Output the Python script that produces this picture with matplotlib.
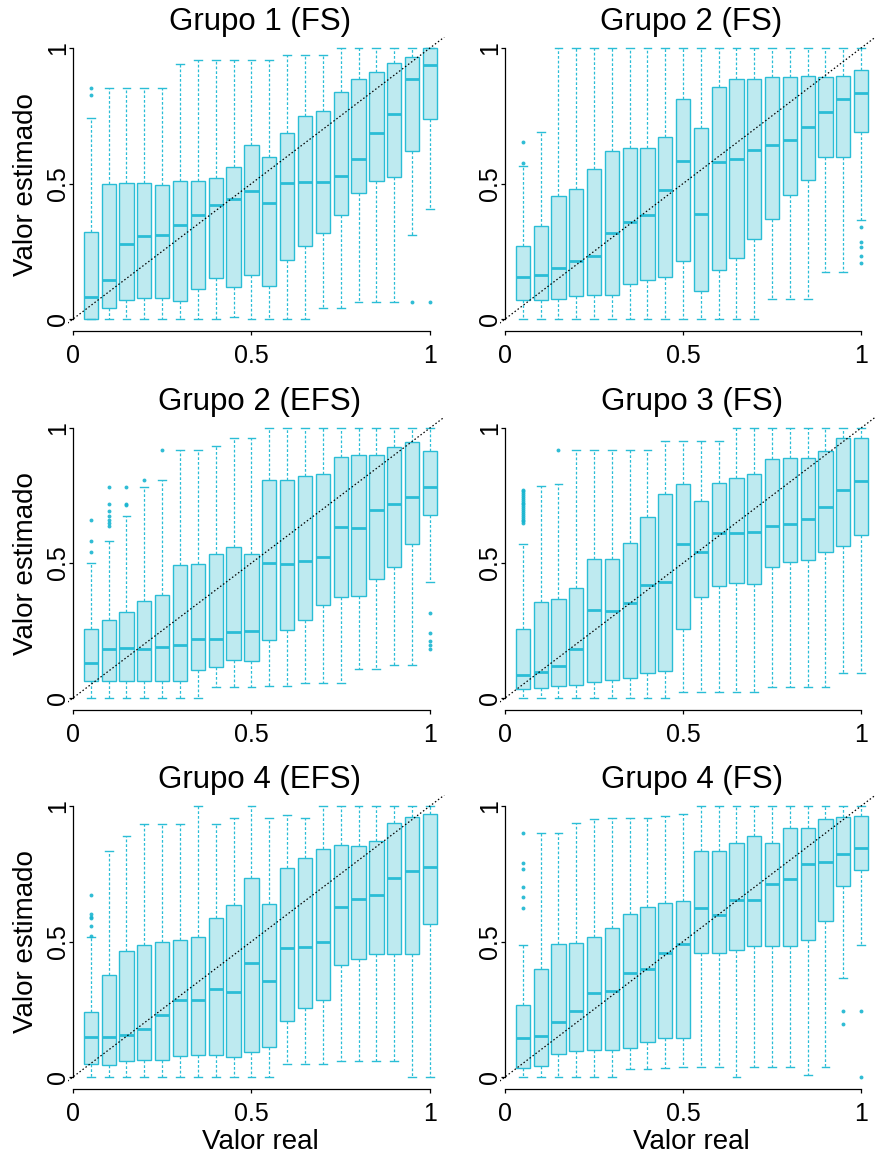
import matplotlib
matplotlib.use("Agg")
import matplotlib.pyplot as plt
import numpy as np

plt.rcParams['font.family'] = ['Liberation Sans', 'DejaVu Sans']

positions = [round(0.05 * k, 2) for k in range(1, 21)]
titles = ["Grupo 1 (FS)", "Grupo 2 (FS)", "Grupo 2 (EFS)", "Grupo 3 (FS)", "Grupo 4 (EFS)", "Grupo 4 (FS)"]
tick_values = [0, 0.5, 1]
tick_labels = ["0", "0.5", "1"]
xlabel_text = "Valor real"
ylabel_text = "Valor estimado"

# ---- Grupo 1 (FS)
g1fs_lo = [0, 0, 0, 0, 0, 0, 0, 0, 0.006, 0, 0, 0, 0, 0.041, 0.041, 0.064, 0.064, 0.064, 0.311, 0.407]
g1fs_q1 = [0, 0.041, 0.071, 0.077, 0.077, 0.065, 0.111, 0.151, 0.119, 0.161, 0.121, 0.219, 0.271, 0.317, 0.384, 0.464, 0.508, 0.526, 0.619, 0.738]
g1fs_med = [0.080, 0.145, 0.278, 0.305, 0.312, 0.348, 0.385, 0.421, 0.444, 0.472, 0.428, 0.503, 0.507, 0.507, 0.529, 0.590, 0.688, 0.756, 0.884, 0.936]
g1fs_q3 = [0.323, 0.499, 0.502, 0.502, 0.493, 0.508, 0.508, 0.519, 0.561, 0.642, 0.598, 0.686, 0.748, 0.768, 0.838, 0.884, 0.913, 0.943, 0.966, 1.0]
g1fs_hi = [0.742, 0.851, 0.851, 0.851, 0.851, 0.941, 0.956, 0.956, 0.956, 0.956, 0.956, 0.973, 0.973, 0.973, 1, 1, 1, 1, 1, 1]
g1fs_out = {1: [0.851, 0.827], 19: [0.064], 20: [0.064]}

# ---- Grupo 2 (FS)
g2fs_lo = [0, 0, 0, 0, 0, 0, 0, 0, 0, 0, 0, 0, 0, 0, 0.075, 0.075, 0.075, 0.173, 0.173, 0.367]
g2fs_q1 = [0.069, 0.069, 0.073, 0.084, 0.087, 0.087, 0.129, 0.145, 0.155, 0.216, 0.103, 0.180, 0.224, 0.296, 0.369, 0.459, 0.514, 0.598, 0.598, 0.690]
g2fs_med = [0.157, 0.164, 0.187, 0.213, 0.231, 0.317, 0.360, 0.385, 0.476, 0.584, 0.389, 0.578, 0.590, 0.622, 0.642, 0.662, 0.708, 0.763, 0.811, 0.834]
g2fs_q3 = [0.268, 0.342, 0.454, 0.481, 0.554, 0.621, 0.631, 0.631, 0.672, 0.813, 0.705, 0.856, 0.886, 0.886, 0.893, 0.893, 0.898, 0.894, 0.898, 0.919]
g2fs_hi = [0.563, 0.692, 1, 1, 1, 1, 1, 1, 1, 1, 1, 1, 1, 1, 1, 1, 1, 1, 1, 1]
g2fs_out = {1: [0.653, 0.576], 20: [0.339, 0.284, 0.266, 0.232, 0.207]}

# ---- Grupo 2 (EFS)
g2efs_lo = [0, 0, 0, 0, 0, 0, 0, 0.039, 0.039, 0.039, 0.043, 0.043, 0.054, 0.054, 0.054, 0.108, 0.108, 0.121, 0.121, 0.429]
g2efs_q1 = [0.064, 0.064, 0.064, 0.064, 0.064, 0.064, 0.102, 0.115, 0.140, 0.138, 0.216, 0.252, 0.289, 0.345, 0.373, 0.378, 0.442, 0.484, 0.571, 0.676]
g2efs_med = [0.131, 0.180, 0.187, 0.183, 0.188, 0.195, 0.220, 0.220, 0.244, 0.250, 0.501, 0.496, 0.506, 0.523, 0.634, 0.628, 0.697, 0.719, 0.745, 0.783]
g2efs_q3 = [0.255, 0.289, 0.318, 0.360, 0.381, 0.491, 0.495, 0.533, 0.558, 0.533, 0.807, 0.807, 0.824, 0.829, 0.893, 0.899, 0.901, 0.930, 0.947, 0.913]
g2efs_hi = [0.501, 0.580, 0.675, 0.780, 0.807, 0.917, 0.917, 0.935, 0.964, 0.964, 1, 1, 1, 1, 1, 1, 1, 1, 1, 1]
g2efs_out = {1: [0.660, 0.580, 0.541],
             2: [0.780, 0.720, 0.692, 0.674, 0.661, 0.649, 0.637],
             3: [0.780, 0.720, 0.713], 4: [0.807], 5: [0.917],
             20: [0.314, 0.240, 0.212, 0.197, 0.182]}

# ---- Grupo 3 (FS)
g3fs_lo = [0, 0, 0, 0, 0, 0, 0, 0, 0, 0.022, 0.022, 0.022, 0.022, 0.022, 0.041, 0.041, 0.041, 0.041, 0.092, 0.092]
g3fs_q1 = [0.033, 0.036, 0.046, 0.049, 0.059, 0.068, 0.074, 0.092, 0.101, 0.256, 0.373, 0.414, 0.426, 0.421, 0.485, 0.502, 0.511, 0.539, 0.563, 0.602]
g3fs_med = [0.087, 0.096, 0.118, 0.181, 0.325, 0.323, 0.353, 0.419, 0.429, 0.569, 0.539, 0.611, 0.611, 0.615, 0.637, 0.644, 0.663, 0.707, 0.771, 0.805]
g3fs_q3 = [0.257, 0.356, 0.368, 0.409, 0.514, 0.516, 0.573, 0.671, 0.757, 0.794, 0.728, 0.797, 0.813, 0.828, 0.885, 0.889, 0.889, 0.913, 0.964, 0.964]
g3fs_hi = [0.570, 0.787, 0.794, 0.920, 0.920, 0.920, 0.920, 0.920, 0.952, 0.952, 0.952, 0.952, 1, 1, 1, 1, 1, 1, 1, 1]
g3fs_out = {1: [0.772, 0.765, 0.758, 0.752, 0.745, 0.738, 0.731, 0.724, 0.717, 0.710,
                0.703, 0.696, 0.689, 0.682, 0.675, 0.668, 0.661, 0.654, 0.649],
            3: [0.920]}

# ---- Grupo 4 (EFS)
g4efs_lo = [0, 0, 0, 0, 0, 0, 0, 0, 0, 0, 0, 0.048, 0.048, 0.048, 0.058, 0.058, 0.058, 0.058, 0, 0]
g4efs_q1 = [0.049, 0.044, 0.058, 0.063, 0.064, 0.077, 0.082, 0.081, 0.074, 0.092, 0.111, 0.206, 0.254, 0.285, 0.412, 0.436, 0.453, 0.453, 0.453, 0.563]
g4efs_med = [0.149, 0.149, 0.156, 0.177, 0.229, 0.283, 0.283, 0.326, 0.313, 0.419, 0.354, 0.475, 0.478, 0.498, 0.628, 0.658, 0.671, 0.733, 0.760, 0.774]
g4efs_q3 = [0.238, 0.376, 0.464, 0.488, 0.498, 0.504, 0.516, 0.586, 0.635, 0.736, 0.639, 0.773, 0.807, 0.840, 0.857, 0.851, 0.870, 0.939, 0.961, 0.969]
g4efs_hi = [0.518, 0.835, 0.891, 0.935, 0.935, 0.935, 1, 0.935, 0.957, 1, 0.956, 0.966, 0.956, 1, 1, 1, 1, 1, 1, 1]
g4efs_out = {1: [0.672, 0.601, 0.592, 0.586, 0.558, 0.522]}

# ---- Grupo 4 (FS)
g4fs_lo = [0, 0, 0, 0, 0, 0, 0.028, 0.028, 0.033, 0.037, 0.037, 0.037, 0, 0.037, 0.037, 0.037, 0.007, 0.037, 0.365, 0.486]
g4fs_q1 = [0.033, 0.041, 0.086, 0.096, 0.101, 0.101, 0.108, 0.130, 0.143, 0.145, 0.458, 0.457, 0.469, 0.482, 0.483, 0.483, 0.504, 0.574, 0.704, 0.764]
g4fs_med = [0.144, 0.150, 0.203, 0.242, 0.311, 0.316, 0.385, 0.397, 0.456, 0.489, 0.625, 0.598, 0.652, 0.655, 0.714, 0.729, 0.786, 0.795, 0.824, 0.844]
g4fs_q3 = [0.265, 0.399, 0.490, 0.494, 0.516, 0.549, 0.601, 0.627, 0.641, 0.651, 0.834, 0.834, 0.865, 0.888, 0.865, 0.919, 0.920, 0.953, 0.959, 0.963]
g4fs_hi = [0.486, 0.899, 0.899, 0.937, 0.953, 0.957, 0.957, 0.957, 0.963, 0.969, 1, 1, 1, 1, 1, 1, 1, 1, 1, 1]
g4fs_out = {1: [0.899, 0.790, 0.768, 0.701, 0.665, 0.622], 19: [0.244, 0.195], 20: [0.244, 0.0]}

panels = [
    (g1fs_lo, g1fs_q1, g1fs_med, g1fs_q3, g1fs_hi, g1fs_out),
    (g2fs_lo, g2fs_q1, g2fs_med, g2fs_q3, g2fs_hi, g2fs_out),
    (g2efs_lo, g2efs_q1, g2efs_med, g2efs_q3, g2efs_hi, g2efs_out),
    (g3fs_lo, g3fs_q1, g3fs_med, g3fs_q3, g3fs_hi, g3fs_out),
    (g4efs_lo, g4efs_q1, g4efs_med, g4efs_q3, g4efs_hi, g4efs_out),
    (g4fs_lo, g4fs_q1, g4fs_med, g4fs_q3, g4fs_hi, g4fs_out),
]

EDGE = '#2ABDD6'
FILL = '#BEEAF0'

W, H = 876, 1155
fig = plt.figure(figsize=(W / 100, H / 100), dpi=100)

# axes rectangles in pixels: (left, top, right, bottom)
col_px = [(67.6, 452.4), (499.7, 883.5)]
row_px = [(37.2, 331.0), (417.2, 709.9), (795.2, 1088.9)]

XLIM = (-0.015, 1.063)
YLIM = (-0.044, 1.04)

for i, (lo, q1, med, q3, hi, outl) in enumerate(panels):
    r, c = divmod(i, 2)
    l, rr = col_px[c]
    t, b = row_px[r]
    ax = fig.add_axes([l / W, 1 - b / H, (rr - l) / W, (b - t) / H])
    stats = []
    for k in range(20):
        stats.append(dict(med=med[k], q1=q1[k], q3=q3[k], whislo=lo[k], whishi=hi[k],
                          fliers=np.array(outl.get(k + 1, []))))
    ax.bxp(stats, positions=positions, widths=0.04, capwidths=0.022, patch_artist=True,
           manage_ticks=False,
           boxprops=dict(facecolor=FILL, edgecolor=EDGE, linewidth=1.0),
           medianprops=dict(color=EDGE, linewidth=2.0),
           whiskerprops=dict(color=EDGE, linewidth=0.9, linestyle=(0, (2.2, 1.6))),
           capprops=dict(color=EDGE, linewidth=1.0),
           flierprops=dict(marker='o', markersize=2.8, markerfacecolor='#19B5D0',
                           markeredgecolor='none', alpha=0.9))
    ax.axline((0, 0), slope=1, color='black', linestyle=(0, (1.2, 1.8)), linewidth=0.9, zorder=5)
    ax.set_xlim(*XLIM)
    ax.set_ylim(*YLIM)
    ax.patch.set_visible(False)
    for s in ('top', 'right'):
        ax.spines[s].set_visible(False)
    ax.spines['left'].set_position(('data', 0))
    ax.spines['left'].set_bounds(0, 1)
    ax.spines['bottom'].set_bounds(0, 1)
    for s in ('left', 'bottom'):
        ax.spines[s].set_linewidth(0.9)
    ax.set_xticks(tick_values)
    ax.set_xticklabels(tick_labels)
    ax.set_yticks(tick_values)
    ax.set_yticklabels(tick_labels)
    ax.tick_params(axis='both', length=3.0, width=0.9, labelsize=18)
    ax.tick_params(axis='x', pad=6.5)
    ax.tick_params(axis='y', pad=2.9)
    for lab in ax.get_yticklabels():
        lab.set_rotation(90)
        lab.set_rotation_mode('anchor')
        lab.set_ha('center')
        lab.set_va('baseline')
    ax.set_title(titles[i], fontsize=22.5, pad=2.0)
    if c == 0:
        ax.set_ylabel(ylabel_text, fontsize=20)
        ax.yaxis.set_label_coords(-0.0743, 0.5)
    if r == 2:
        ax.set_xlabel(xlabel_text, fontsize=20)
        ax.xaxis.set_label_coords(0.5, -0.138)

fig.savefig('out.png', dpi=100)
